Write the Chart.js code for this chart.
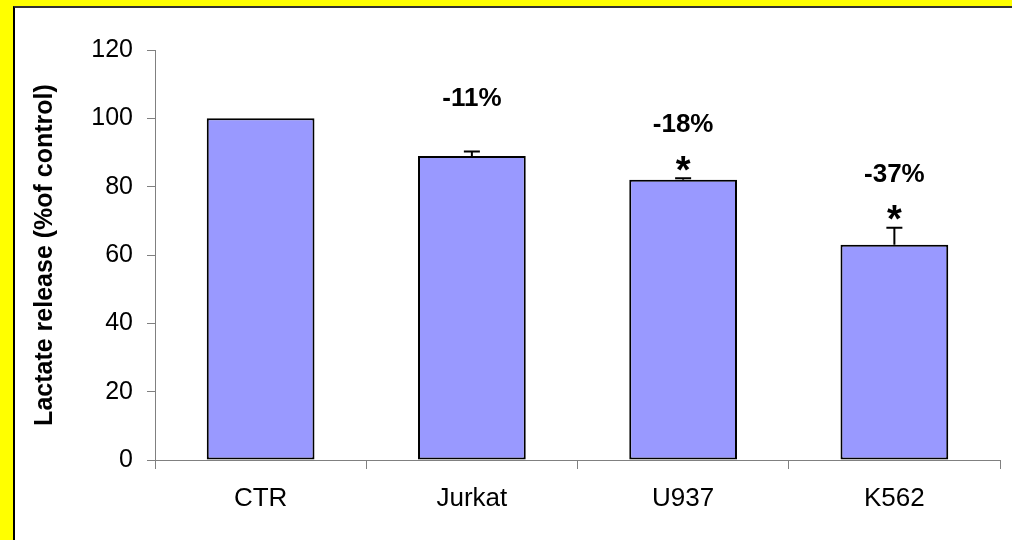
<!DOCTYPE html>
<html lang="en">
<head>
    <meta charset="UTF-8">
    <title>Lactate release</title>
    <script src="https://cdn.jsdelivr.net/npm/chart.js"></script>
    <style>
        html, body {
            margin: 0;
            padding: 0;
            width: 1012px;
            height: 540px;
            overflow: hidden;
            background-color: #ffff00;
        }
        .marco {
            position: absolute;
            left: 13px;
            top: 6px;
            right: 0;
            bottom: 0;
            background-color: #fff;
            border-left: 2px solid #000;
            border-top: 2px solid #333;
        }
        .lienzo {
            position: absolute;
            left: 0;
            top: 0;
            width: 1012px;
            height: 540px;
        }
    </style>
</head>
<body>
    <div class="marco"></div>
    <div class="lienzo">
        <canvas id="lactatoChart"></canvas>
    </div>

    <script>
        // Datos del gráfico
        const lineas = ['CTR', 'Jurkat', 'U937', 'K562'];
        const lactato = [100, 89, 82, 63];
        const errores = [0, 1.3, 0.5, 5];
        const significativo = [false, false, true, true];
        const ticksY = [0, 20, 40, 60, 80, 100, 120];

        const fuente = '"Liberation Sans", Arial, sans-serif';

        // Barras de error, porcentajes y asteriscos sobre cada barra
        const anotaciones = {
            id: 'anotaciones',
            afterDatasetsDraw(chart) {
                const ctx = chart.ctx;
                const y = chart.scales.y;
                const meta = chart.getDatasetMeta(0);
                ctx.save();
                ctx.strokeStyle = '#000';
                ctx.lineWidth = 2;
                ctx.fillStyle = '#000';
                ctx.textAlign = 'center';
                ctx.textBaseline = 'middle';
                meta.data.forEach((barra, i) => {
                    const yCap = y.getPixelForValue(lactato[i] + errores[i]);
                    if (errores[i] > 0) {
                        ctx.beginPath();
                        ctx.moveTo(barra.x, barra.y);
                        ctx.lineTo(barra.x, yCap);
                        ctx.moveTo(barra.x - 8, yCap);
                        ctx.lineTo(barra.x + 8, yCap);
                        ctx.stroke();
                    }
                    if (i > 0) {
                        const cambio = Math.round(lactato[i] - lactato[0]);
                        ctx.font = 'bold 26px ' + fuente;
                        ctx.fillText(cambio + '%', barra.x, yCap - 53);
                    }
                    if (significativo[i]) {
                        ctx.font = 'bold 38px ' + fuente;
                        ctx.fillText('*', barra.x, yCap - 6);
                    }
                });
                ctx.restore();
            }
        };

        const ctx = document.getElementById('lactatoChart').getContext('2d');
        const lactatoChart = new Chart(ctx, {
            type: 'bar',
            data: {
                labels: lineas,
                datasets: [{
                    label: 'Lactate release',
                    data: lactato,
                    backgroundColor: '#9999ff',
                    borderColor: '#000',
                    borderWidth: 2,
                    borderSkipped: false,
                    categoryPercentage: 1,
                    barPercentage: 0.51
                }]
            },
            options: {
                responsive: true,
                maintainAspectRatio: false,
                animation: false,
                layout: {
                    padding: { left: 0, right: 12, top: 50, bottom: 0 }
                },
                plugins: {
                    legend: { display: false },
                    tooltip: { enabled: false }
                },
                scales: {
                    x: {
                        grid: {
                            drawOnChartArea: false,
                            color: '#808080',
                            tickLength: 9,
                            offset: true
                        },
                        border: { color: '#808080', width: 1 },
                        ticks: {
                            color: '#000',
                            padding: 14,
                            font: { family: fuente, size: 26 }
                        },
                        afterFit(scale) { scale.height = 80; }
                    },
                    y: {
                        min: 0,
                        max: 120,
                        afterBuildTicks(scale) {
                            scale.ticks = ticksY.map(v => ({ value: v }));
                        },
                        grid: {
                            drawOnChartArea: false,
                            color: '#808080',
                            tickLength: 8
                        },
                        border: { color: '#808080', width: 1 },
                        ticks: {
                            color: '#000',
                            padding: 14,
                            font: { family: fuente, size: 25 }
                        },
                        title: {
                            display: true,
                            text: 'Lactate release (%of control)',
                            color: '#000',
                            padding: { top: 30, bottom: 0 },
                            font: { family: fuente, size: 25, weight: 'bold' }
                        },
                        afterFit(scale) { scale.width = 155; }
                    }
                }
            },
            plugins: [anotaciones]
        });
    </script>
</body>
</html>
